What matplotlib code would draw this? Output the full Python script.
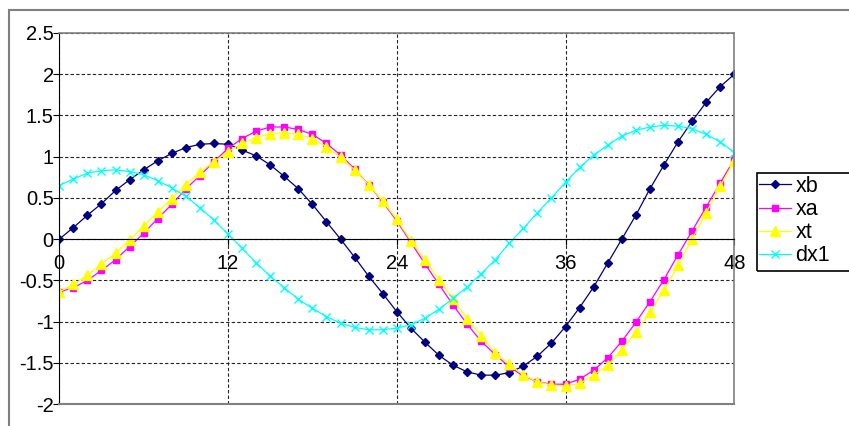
import matplotlib
matplotlib.use("Agg")
import matplotlib.pyplot as plt
from matplotlib.patches import Rectangle

plt.rcParams["font.family"] = ["Liberation Sans", "DejaVu Sans"]

# time steps 0..48
steps = list(range(49))

xb = [0.00, 0.14, 0.29, 0.43, 0.59, 0.72, 0.84, 0.95, 1.04, 1.11,
      1.15, 1.16, 1.15, 1.08, 1.01, 0.90, 0.76, 0.61, 0.42, 0.21,
      0.00, -0.22, -0.45, -0.66, -0.88, -1.08, -1.25, -1.41, -1.53, -1.61,
      -1.65, -1.65, -1.62, -1.54, -1.42, -1.26, -1.06, -0.83, -0.58, -0.29,
      0.00, 0.29, 0.61, 0.90, 1.18, 1.43, 1.66, 1.85, 2.00]

xa = [-0.64, -0.59, -0.50, -0.38, -0.25, -0.09, 0.07, 0.25, 0.42, 0.61,
      0.77, 0.94, 1.10, 1.22, 1.31, 1.36, 1.36, 1.33, 1.27, 1.16,
      1.02, 0.85, 0.66, 0.45, 0.22, -0.04, -0.30, -0.55, -0.80, -1.03,
      -1.24, -1.40, -1.55, -1.66, -1.73, -1.76, -1.76, -1.70, -1.59, -1.44,
      -1.24, -1.01, -0.76, -0.49, -0.19, 0.10, 0.39, 0.68, 0.97]

xt = [-0.64, -0.55, -0.44, -0.30, -0.17, -0.01, 0.16, 0.33, 0.49, 0.66,
      0.81, 0.94, 1.06, 1.16, 1.23, 1.28, 1.29, 1.27, 1.22, 1.12,
      0.99, 0.84, 0.66, 0.46, 0.24, -0.02, -0.25, -0.49, -0.73, -0.97,
      -1.17, -1.38, -1.52, -1.65, -1.73, -1.77, -1.78, -1.75, -1.65, -1.53,
      -1.34, -1.13, -0.89, -0.62, -0.32, 0.00, 0.32, 0.64, 0.95]

dx1 = [0.65, 0.73, 0.80, 0.83, 0.84, 0.82, 0.78, 0.71, 0.62, 0.52,
       0.38, 0.23, 0.06, -0.11, -0.29, -0.45, -0.59, -0.73, -0.84, -0.94,
       -1.02, -1.07, -1.10, -1.10, -1.08, -1.04, -0.96, -0.85, -0.72, -0.58,
       -0.42, -0.25, -0.05, 0.13, 0.32, 0.50, 0.69, 0.87, 1.02, 1.14,
       1.25, 1.32, 1.36, 1.38, 1.37, 1.34, 1.27, 1.18, 1.05]

x_ticks = [0, 12, 24, 36, 48]
y_ticks = [-2, -1.5, -1, -0.5, 0, 0.5, 1, 1.5, 2, 2.5]
y_labels = ["-2", "-1.5", "-1", "-0.5", "0", "0.5", "1", "1.5", "2", "2.5"]

W, H = 849, 426
fig = plt.figure(figsize=(W / 100, H / 100), dpi=100)
ax = fig.add_axes([59.3 / W, 22 / H, 675 / W, 371 / H])

# outer chart frame, runs off the right and bottom edges
fig.patches.append(Rectangle((9 / W, -0.1), 1.1, 1.1 - 10 / H,
                             transform=fig.transFigure, fill=False,
                             edgecolor="#808080", lw=1.5))
# legend box, also cut by the right edge
fig.patches.append(Rectangle((757 / W, 1 - 271 / H), 0.2, 98 / H,
                             transform=fig.transFigure, fill=False,
                             edgecolor="black", lw=1.2))

ax.plot(steps, xb, color="#000080", marker="D", ms=4.5, lw=0.9, label="xb")
ax.plot(steps, xa, color="#FF00FF", marker="s", ms=5, lw=0.9, label="xa")
ax.plot(steps, xt, color="#FFFF00", marker="^", ms=6.5, lw=0.9, label="xt")
ax.plot(steps, dx1, color="#00FFFF", marker="x", ms=6, mew=1, lw=0.9, label="dx1")

ax.set_xlim(0, 48)
ax.set_ylim(-2, 2.5)
ax.set_xticks(x_ticks)
ax.set_yticks(y_ticks)
ax.set_yticklabels(y_labels)

ax.grid(True, color="#222222", linestyle=(0, (3, 2)), lw=0.8)
ax.set_axisbelow(True)

for side in ["top", "right"]:
    ax.spines[side].set_color("#808080")
    ax.spines[side].set_linewidth(1.2)
ax.spines["left"].set_color("black")
ax.spines["bottom"].set_position(("data", 0))
ax.spines["bottom"].set_color("black")
ax.axhline(-2, color="#808080", lw=1.5, clip_on=False, zorder=3)

ax.tick_params(axis="y", direction="out", length=4, pad=0, labelsize=14.5)
ax.tick_params(axis="x", direction="out", length=4, pad=7, labelsize=14.5)

leg = ax.legend(loc="upper left", bbox_to_anchor=(759 / W, 1 - 176 / H),
                bbox_transform=fig.transFigure, fontsize=15.5, frameon=False,
                borderpad=0, labelspacing=0.1,
                handlelength=1.5, handletextpad=0.2, borderaxespad=0)

fig.savefig("out.png", dpi=100)
